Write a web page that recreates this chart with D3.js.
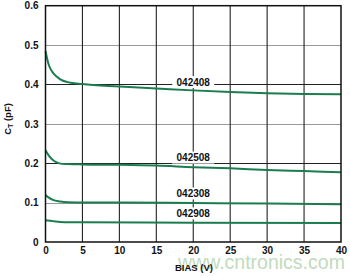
<!DOCTYPE html>
<html><head><meta charset="utf-8">
<script src="https://cdn.jsdelivr.net/npm/d3@7"></script>
<style>body{margin:0;background:#fff}svg{display:block}text{font-family:"Liberation Sans",Arial,sans-serif}</style>
</head><body>
<script>
const xTicks=[0,5,10,15,20,25,30,35,40];
const yTicks=[0,0.1,0.2,0.3,0.4,0.5,0.6];
const seriesNames=["042408","042508","042308","042908"];
const bias042408=[0,0.25,0.5,1,1.5,2,3,5,10,15,20,25,30,35,40];
const ct042408=[0.485,0.463,0.447,0.430,0.420,0.413,0.406,0.401,0.395,0.390,0.385,0.381,0.378,0.376,0.375];
const bias042508=[0,0.5,1,1.5,2,3,5,10,15,20,25,30,35,40];
const ct042508=[0.233,0.218,0.208,0.202,0.199,0.198,0.197,0.196,0.194,0.190,0.187,0.183,0.180,0.177];
const bias042308=[0,0.5,1,2,3,5,10,20,30,40];
const ct042308=[0.119,0.112,0.107,0.103,0.101,0.100,0.100,0.099,0.098,0.096];
const bias042908=[0,1,2,3,5,20,40];
const ct042908=[0.055,0.053,0.051,0.050,0.050,0.049,0.048];
const labelBias=[20,20,20,20];
const labelCt=[0.406,0.2144,0.1233,0.0727];

const W=350,H=277,m={l:45.5,r:9,t:5.7,b:35};
const svg=d3.select("body").append("svg").attr("width",W).attr("height",H);
const x=d3.scaleLinear().domain([0,40]).range([m.l,W-m.r]);
const y=d3.scaleLinear().domain([0,0.6]).range([H-m.b,m.t]);

// watermark
svg.append("text").attr("x",178).attr("y",269).attr("font-size",19.5).attr("fill","#bfdcbc").text("www.cntronics.com");

const g=svg.append("g");
// horizontal grid
g.selectAll(".hg").data(yTicks.slice(1,-1)).join("line")
 .attr("x1",x(0)).attr("x2",x(40)).attr("y1",d=>Math.round(y(d))+0.5).attr("y2",d=>Math.round(y(d))+0.5)
 .attr("stroke",(d,i)=>i%2===0?"#999":"#222").attr("stroke-width",1.2);
// vertical grid
g.selectAll(".vg").data(xTicks.slice(1,-1)).join("line")
 .attr("y1",y(0)).attr("y2",y(0.6)).attr("x1",d=>x(d)).attr("x2",d=>x(d))
 .attr("stroke","#222").attr("stroke-width",1.1);

// labels with white boxes
const lab=g.selectAll(".lab").data(seriesNames).join("g").attr("transform",(d,i)=>`translate(${x(labelBias[i])},${y(labelCt[i])})`);
lab.append("rect").attr("x",-21).attr("y",-6).attr("width",42).attr("height",12).attr("fill","#fff");
lab.append("text").attr("text-anchor","middle").attr("dy","0.36em").attr("font-size",10).attr("font-weight","bold").attr("fill","#111").text(d=>d);

// curves
const bias=[bias042408,bias042508,bias042308,bias042908];
const ct=[ct042408,ct042508,ct042308,ct042908];
const line=d3.line().x(d=>x(d[0])).y(d=>y(d[1])).curve(d3.curveMonotoneX);
bias.forEach((b,i)=>{
  g.append("path").datum(b.map((v,j)=>[v,ct[i][j]])).attr("d",line)
   .attr("fill","none").attr("stroke","#1b7d4f").attr("stroke-width",2);
});

// frame
svg.append("rect").attr("x",x(0)).attr("y",y(0.6)).attr("width",x(40)-x(0)).attr("height",y(0)-y(0.6))
 .attr("fill","none").attr("stroke","#111").attr("stroke-width",1.5);

// axes
const xa=svg.append("g").attr("transform",`translate(0,${y(0)})`).call(d3.axisBottom(x).tickValues(xTicks).tickSize(0).tickPadding(5).tickFormat(d3.format("d")));
const ya=svg.append("g").attr("transform",`translate(${x(0)},0)`).call(d3.axisLeft(y).tickValues(yTicks).tickSize(0).tickPadding(7).tickFormat(d=>d===0?"0":d3.format(".1f")(d)));
[xa,ya].forEach(a=>{a.select(".domain").remove();a.selectAll("text").attr("font-size",10).attr("font-weight","bold").attr("fill","#111").attr("font-family","Liberation Sans, Arial, sans-serif");});
xa.selectAll("text").attr("dy","0.71em");

svg.append("text").attr("x",194).attr("y",270.5).attr("text-anchor","middle").attr("font-size",9.5).attr("font-weight","bold").attr("fill","#111").text("BIAS (V)");
const yt=svg.append("text").attr("transform",`translate(10.5,119) rotate(-90)`).attr("text-anchor","middle").attr("font-size",9.5).attr("font-weight","bold").attr("fill","#111");
yt.append("tspan").text("C");
yt.append("tspan").attr("font-size",7).attr("dy",2).text("T");
yt.append("tspan").attr("dy",-2).text(" (pF)");
</script>
</body></html>
